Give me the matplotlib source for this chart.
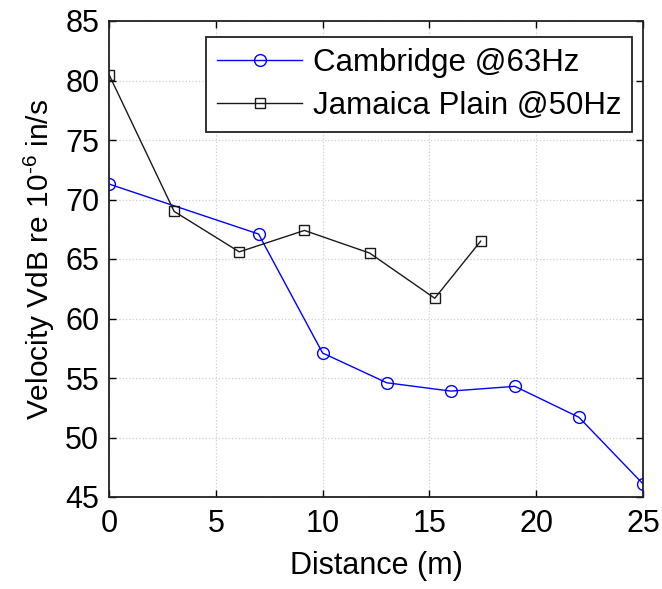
import matplotlib
matplotlib.use("Agg")
import matplotlib.pyplot as plt

plt.rcParams['font.family'] = ['Liberation Sans', 'DejaVu Sans']
plt.rcParams['mathtext.fontset'] = 'custom'
plt.rcParams['mathtext.rm'] = 'Liberation Sans'
plt.rcParams['mathtext.default'] = 'regular'

cam_x = [0, 7, 10, 13, 16, 19, 22, 25]
cam_y = [71.3, 67.1, 57.1, 54.6, 53.9, 54.3, 51.7, 46.1]
jp_x = [0, 3.05, 6.1, 9.15, 12.2, 15.25, 17.4]
jp_y = [80.5, 69.0, 65.6, 67.4, 65.5, 61.7, 66.5]

xticks = [0, 5, 10, 15, 20, 25]
yticks = [45, 50, 55, 60, 65, 70, 75, 80, 85]

fig = plt.figure(figsize=(6.62, 5.89), dpi=100)
ax = fig.add_axes([109/662, 1-497/589, (643-109)/662, (497-21)/589])

ax.plot(cam_x, cam_y, color='#0000ff', lw=1.0, marker='o', ms=8.5,
        mfc='none', mec='#0000ff', mew=1.0, label='Cambridge @63Hz')
ax.plot(jp_x, jp_y, color='#1a1a1a', lw=1.0, marker='s', ms=7,
        mfc='none', mec='#1a1a1a', mew=1.0, label='Jamaica Plain @50Hz')

ax.set_xlim(0, 25)
ax.set_ylim(45, 85)
ax.set_xticks(xticks)
ax.set_yticks(yticks)
ax.tick_params(direction='in', length=5, width=1, labelsize=22,
               top=True, right=True)
ax.tick_params(axis='x', pad=9)
ax.tick_params(axis='y', pad=7)
ax.grid(True, color='#d0d0d0', linestyle=':', linewidth=0.9)
for s in ax.spines.values():
    s.set_linewidth(1.3)
    s.set_color('#222222')

ax.set_xlabel('Distance (m)', fontsize=22, labelpad=8)
ax.set_ylabel('Velocity VdB re 10$^{\u20106}$ in/s', fontsize=21.5, labelpad=6)

leg = ax.legend(loc='upper right', fontsize=22.5, frameon=True, fancybox=False,
                edgecolor='#222222', framealpha=1, handlelength=2.7,
                borderpad=0.35, labelspacing=0.42, handletextpad=0.35,
                borderaxespad=0, bbox_to_anchor=((632-109)/534, (497-37)/476))
leg.get_frame().set_linewidth(1.3)

fig.savefig('out.png', dpi=100)
